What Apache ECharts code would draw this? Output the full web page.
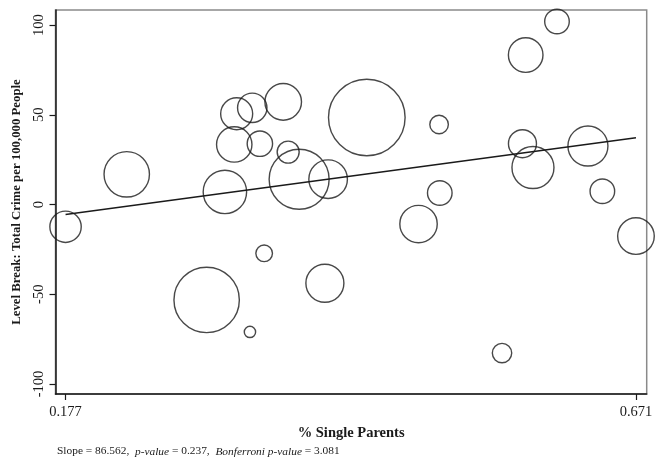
<!DOCTYPE html>
<html>
<head>
<meta charset="utf-8">
<script src="https://cdn.jsdelivr.net/npm/echarts@6/dist/echarts.min.js"></script>
<style>
  html, body { margin: 0; padding: 0; background: #fff; }
  #chart { width: 669px; height: 468px; }
</style>
</head>
<body>
<div id="chart"></div>
<script>
// Share of single-parent households per unit
const singleParents = [
  0.177, 0.2300, 0.2992, 0.3150, 0.3231, 0.3252, 0.3367, 0.3387, 0.3453,
  0.3490, 0.3655, 0.3698, 0.3793, 0.4016, 0.4044, 0.4379, 0.5005, 0.5011,
  0.4827, 0.5550, 0.5727, 0.5755, 0.5818, 0.6026, 0.6294, 0.6419, 0.671
];
// Level break in total crime per 100,000 people
const levelBreak = [
  -12.4, 16.8, -53.2, 7.0, 33.5, 50.6, -71.0, 53.9, 33.9,
  -27.2, 57.2, 29.2, 14.1, -43.9, 14.1, 48.5, 44.6, 6.4,
  -10.9, -82.8, 33.9, 83.3, 20.6, 102.0, 32.6, 7.4, -17.6
];
// Regression weight of each unit (bubble area)
const weights = [
  246, 515, 1069, 471, 313, 256, 32, 216, 161,
  69, 335, 121, 900, 361, 372, 1467, 86, 151,
  350, 94, 196, 299, 441, 151, 400, 151, 335
];

// Weighted fit
const slope = 86.562;
const intercept = -20.9;
const pValue = 0.237;
const bonferroniP = 3.081;

const xTicks = [0.177, 0.671];
const yTicks = [-100, -50, 0, 50, 100];

const xTitle = '% Single Parents';
const yTitle = 'Level Break: Total Crime per 100,000 People';

const points = singleParents.map((x, i) => [x, levelBreak[i], weights[i]]);
const fitLine = xTicks.map(x => [x, intercept + slope * x]);

const serif = '"Liberation Serif", "DejaVu Serif", serif';
const ink = '#1a1a1a';

const chart = echarts.init(document.getElementById('chart'), null, { renderer: 'canvas' });
chart.setOption({
  backgroundColor: '#fff',
  animation: false,
  grid: {
    left: 55.5, right: 22.3, top: 10, bottom: 74,
    show: true, borderColor: '#8a8a8a', borderWidth: 1.5, backgroundColor: 'transparent'
  },
  xAxis: {
    type: 'value',
    min: 0.1683, max: 0.6803,
    name: xTitle,
    nameLocation: 'middle',
    nameGap: 32,
    nameTextStyle: { fontFamily: serif, fontSize: 14.5, fontWeight: 'bold', color: ink },
    axisLine: { show: true, onZero: false, lineStyle: { color: ink, width: 1.5 } },
    axisTick: { show: true, customValues: xTicks, length: 6, lineStyle: { color: ink, width: 1.2 } },
    axisLabel: {
      customValues: xTicks,
      formatter: v => v.toFixed(3),
      fontFamily: serif, fontSize: 14.5, color: ink, margin: 11
    },
    splitLine: { show: false }
  },
  yAxis: {
    type: 'value',
    min: -105.6, max: 108.4,
    name: yTitle,
    nameLocation: 'middle',
    nameGap: 27,
    nameTextStyle: { fontFamily: serif, fontSize: 12.8, fontWeight: 'bold', color: ink },
    axisLine: { show: true, onZero: false, lineStyle: { color: ink, width: 1.5 } },
    axisTick: { show: true, customValues: yTicks, length: 6, lineStyle: { color: ink, width: 1.2 } },
    axisLabel: {
      customValues: yTicks,
      rotate: 90,
      fontFamily: serif, fontSize: 14.5, color: ink, margin: 9
    },
    splitLine: { show: false }
  },
  series: [
    {
      type: 'scatter',
      data: points,
      symbol: 'circle',
      symbolSize: d => 2 * Math.sqrt(d[2]),
      itemStyle: { color: 'rgba(0,0,0,0)', borderColor: ink, borderWidth: 1.4 },
      emphasis: { disabled: true },
      z: 2
    },
    {
      type: 'line',
      data: fitLine,
      showSymbol: false,
      lineStyle: { color: ink, width: 1.4 },
      emphasis: { disabled: true },
      z: 3
    }
  ],
  graphic: [
    {
      type: 'text',
      left: 57,
      top: 446,
      style: {
        text: '{n|Slope = ' + slope.toFixed(3) + ',  }{i|p-value}{n| = ' + pValue.toFixed(3) +
              ',  }{i|Bonferroni p-value}{n| = ' + bonferroniP.toFixed(3) + '}',
        rich: {
          n: { fontFamily: serif, fontSize: 11.4, fill: ink },
          i: { fontFamily: serif, fontSize: 11.4, fontStyle: 'italic', fill: ink }
        }
      }
    }
  ]
});
</script>
</body>
</html>
